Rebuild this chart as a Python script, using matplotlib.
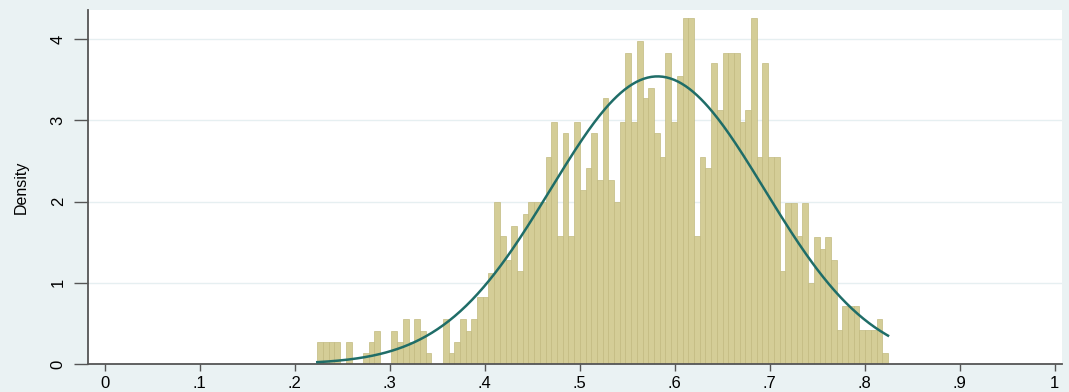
import numpy as np
import matplotlib
matplotlib.use("Agg")
import matplotlib.pyplot as plt

# histogram: 100 equal bins between the sample min and max, heights as densities
x_min = 0.2239
x_max = 0.8246
densities = [
    0.27, 0.27, 0.27, 0.27, 0.00, 0.27, 0.00, 0.00, 0.14, 0.27,
    0.41, 0.00, 0.00, 0.41, 0.27, 0.55, 0.27, 0.55, 0.41, 0.14,
    0.00, 0.00, 0.55, 0.14, 0.27, 0.55, 0.41, 0.55, 0.83, 0.83,
    1.12, 1.99, 1.57, 1.28, 1.70, 1.14, 1.85, 1.99, 1.99, 1.99,
    2.55, 2.98, 1.57, 2.84, 1.57, 2.98, 2.14, 2.41, 2.84, 2.26,
    3.27, 2.26, 1.99, 2.98, 3.83, 2.98, 3.98, 3.27, 3.40, 2.84,
    2.55, 3.83, 2.98, 3.55, 4.26, 4.26, 1.57, 2.55, 2.41, 3.70,
    3.13, 3.83, 3.83, 3.83, 2.98, 3.13, 4.26, 2.55, 3.70, 2.55,
    2.55, 1.14, 1.98, 1.98, 1.57, 1.98, 1.00, 1.56, 1.42, 1.56,
    1.28, 0.42, 0.71, 0.71, 0.71, 0.42, 0.42, 0.42, 0.56, 0.13,
]

# fitted normal overlay
mu = 0.582
sigma = 0.1127

x_ticks = [0, 0.1, 0.2, 0.3, 0.4, 0.5, 0.6, 0.7, 0.8, 0.9, 1.0]
x_labels = ["0", ".1", ".2", ".3", ".4", ".5", ".6", ".7", ".8", ".9", "1"]
y_ticks = [0, 1, 2, 3, 4]

bg = "#eaf2f3"
bar_fill = "#d4cd97"
bar_edge = "#c2ba80"
curve_col = "#1f6d68"
axis_col = "#555555"

plt.rcParams["font.family"] = ["Liberation Sans", "DejaVu Sans"]

fig = plt.figure(figsize=(10.69, 3.92), dpi=100, facecolor=bg)
ax = fig.add_axes([88 / 1069, 28 / 392, 974 / 1069, 354 / 392])
ax.set_facecolor("white")

edges = np.linspace(x_min, x_max, len(densities) + 1)
ax.bar(edges[:-1], densities, width=np.diff(edges), align="edge",
       color=bar_fill, edgecolor=bar_edge, linewidth=0.5, zorder=2)

xs = np.linspace(x_min, x_max, 300)
pdf = np.exp(-0.5 * ((xs - mu) / sigma) ** 2) / (sigma * np.sqrt(2 * np.pi))
ax.plot(xs, pdf, color=curve_col, linewidth=1.8, zorder=3)

ax.set_xlim(-0.0174, 1.0077)
ax.set_ylim(0, 4.357)

ax.set_xticks(x_ticks)
ax.set_xticklabels(x_labels)
ax.set_yticks(y_ticks)
ax.set_yticklabels([str(v) for v in y_ticks], rotation=90, va="center")

for v in y_ticks[1:]:
    ax.axhline(v, color="#e6eff1", linewidth=1.0, zorder=1)

for side in ["top", "right"]:
    ax.spines[side].set_visible(False)
for side in ["left", "bottom"]:
    ax.spines[side].set_color(axis_col)
    ax.spines[side].set_linewidth(1.3)

ax.tick_params(axis="y", length=10, width=1.0, color=axis_col, labelsize=12, pad=6)
ax.tick_params(axis="x", length=5, width=1.0, color=axis_col, labelsize=12, pad=4)
ax.set_ylabel("Density", fontsize=11.5, labelpad=16)

fig.savefig("out.png", dpi=100, facecolor=bg)
